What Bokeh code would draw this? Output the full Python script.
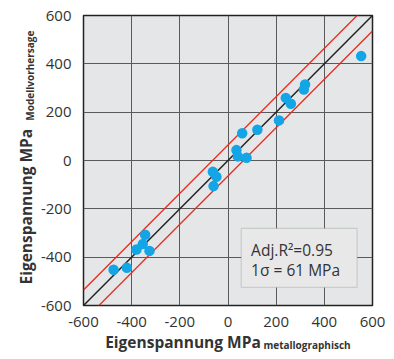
import math
from bokeh.plotting import figure
from bokeh.models import FixedTicker, Label, BoxAnnotation, Range1d
from bokeh.embed import file_html
from bokeh.resources import INLINE

# --- data ---
x_metallo = [553, 320, 315, 240, 261, 212, 122, 59, 35, 41, 77, -63, -48, -60,
             -344, -354, -380, -326, -420, -475]
y_model = [432, 315, 294, 259, 235, 166, 127, 113, 43, 17, 11, -47, -67, -106,
           -307, -346, -368, -374, -444, -452]
ticks = [-600, -400, -200, 0, 200, 400, 600]
tick_labels = ["-600", "-400", "-200", "0", "200", "400", "600"]
diag = [-600, 600]
band = 64
adj_r2 = "0.95"
sigma_txt = "61"

FONT = "Open Sans"
TXT = "#333333"

p = figure(width=394, height=359, output_backend="svg", toolbar_location=None,
           x_range=Range1d(-600, 600), y_range=Range1d(-600, 600),
           min_border_left=83, min_border_right=22, min_border_top=15,
           min_border_bottom=54)

p.background_fill_color = "#e5e6e7"
p.border_fill_color = "white"
p.outline_line_color = "#222222"
p.outline_line_width = 1.5

for ax in (p.xaxis[0], p.yaxis[0]):
    ax.ticker = FixedTicker(ticks=ticks)
    ax.major_label_overrides = {t: s for t, s in zip(ticks, tick_labels)}
    ax.axis_line_color = None
    ax.major_tick_line_color = None
    ax.minor_tick_line_color = None
    ax.major_label_text_font = FONT
    ax.major_label_text_font_size = "15px"
    ax.major_label_text_color = TXT
    ax.major_label_standoff = 6
p.xaxis[0].major_label_standoff = 5

p.xgrid.ticker = FixedTicker(ticks=ticks)
p.ygrid.ticker = FixedTicker(ticks=ticks)
for g in (p.xgrid[0], p.ygrid[0]):
    g.grid_line_color = "#5a5a5a"
    g.grid_line_width = 1

# lines
p.line(diag, diag, line_color="#222222", line_width=1.5)
p.line(diag, [d + band for d in diag], line_color="#e8291c", line_width=1.3)
p.line(diag, [d - band for d in diag], line_color="#e8291c", line_width=1.3)

# points
p.scatter(x_metallo, y_model, size=10.5, color="#14a5e6", line_color=None)

# inset box
p.add_layout(BoxAnnotation(left=55, right=536, top=-281, bottom=-525,
                           fill_color="#e8e8e8", fill_alpha=1,
                           line_color="#8a8a8a", line_width=1.2))
p.add_layout(Label(x=96, y=-372, text="Adj.R\u00b2=" + adj_r2,
                   text_font=FONT, text_font_size="15.5px", text_color=TXT,
                   text_baseline="alphabetic", text_align="left"))
p.add_layout(Label(x=96, y=-455, text="1\u03c3 = " + sigma_txt + " MPa",
                   text_font=FONT, text_font_size="15.5px", text_color=TXT,
                   text_baseline="alphabetic", text_align="left"))

# axis titles with subscripts, placed in the side panels (not clipped)
common = dict(text_font=FONT, text_font_style="bold", text_color=TXT,
              text_baseline="alphabetic", text_align="left")
p.add_layout(Label(x=-510, y=-749, text="Eigenspannung MPa",
                   text_font_size="15.5px", **common), "below")
p.add_layout(Label(x=147, y=-762, text="metallographisch",
                   text_font_size="10px", **common), "above")
p.add_layout(Label(x=-838, y=-513, text="Eigenspannung MPa", angle=math.pi / 2,
                   text_font_size="15.5px", **common), "left")
p.add_layout(Label(x=-821, y=165, text="Modellvorhersage", angle=math.pi / 2,
                   text_font_size="10px", **common), "left")

open("out.html", "w").write(file_html(p, INLINE))
